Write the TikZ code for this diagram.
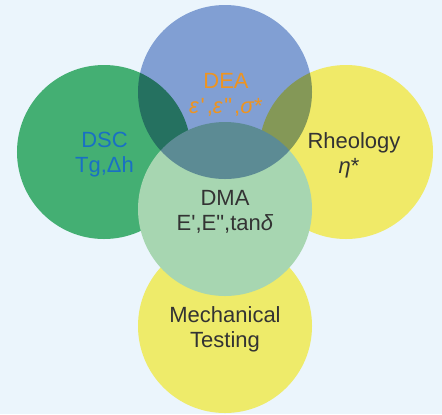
\documentclass[tikz,border=0pt]{standalone}
\usepackage{fontspec}
\setmainfont{Liberation Sans}[Ligatures=TeXOff]
\usepackage{tikz}
\usetikzlibrary{positioning}
\definecolor{bgblue}{RGB}{235,245,252}
\definecolor{deablue}{RGB}{141,166,214}
\definecolor{dscgreen}{RGB}{68,175,115}
\definecolor{rheoyellow}{RGB}{240,234,104}
\definecolor{dmagreen}{RGB}{167,214,177}
\definecolor{mechyellow}{RGB}{238,235,106}
\definecolor{deaorange}{RGB}{238,148,32}
\definecolor{dscblue}{RGB}{25,112,196}
\definecolor{labelgray}{RGB}{51,51,51}

\begin{document}
\begin{tikzpicture}[x=1bp,y=-1bp,
  venn/.style={circle,draw=none,inner sep=0pt,minimum size=174bp},
  every node/.style={font=\fontsize{22bp}{25bp}\selectfont,align=center,text=labelgray}]
  \fill[bgblue] (0,0) rectangle (442,414);
  % Circles (DEA last, multiplied over the others)
  \node[venn,fill=dscgreen] (dsc) at (104,152) {};
  \node[venn,fill=rheoyellow] (rheo) at (346,152) {};
  \node[venn,fill=mechyellow] (mech) at (225,326) {};
  \node[venn,fill=dmagreen] (dma) at (225,209) {};
  \begin{scope}[blend mode=multiply]
    \node[venn,fill=deablue] (dea) at (225,92) {};
  \end{scope}
  % Labels
  \node[text=deaorange] (dealabel) at (226,94.5) {DEA\\\textit{ε}\kern1.5bp'\kern2bp,\textit{ε}\kern1.5bp"\kern2bp,\textit{σ}*};
  \node[text=dscblue] (dsclabel) at (104.5,154.5) {DSC\\Tg,Δh};
  \node (rheolabel) at (354,155) {Rheology\\\textit{η}*\kern10bp};
  \node (dmalabel) at (225,211.5) {DMA\\E',E",tan\textit{δ}};
  \node (mechlabel) at (225,329.5) {Mechanical\\Testing};
\end{tikzpicture}
\end{document}
